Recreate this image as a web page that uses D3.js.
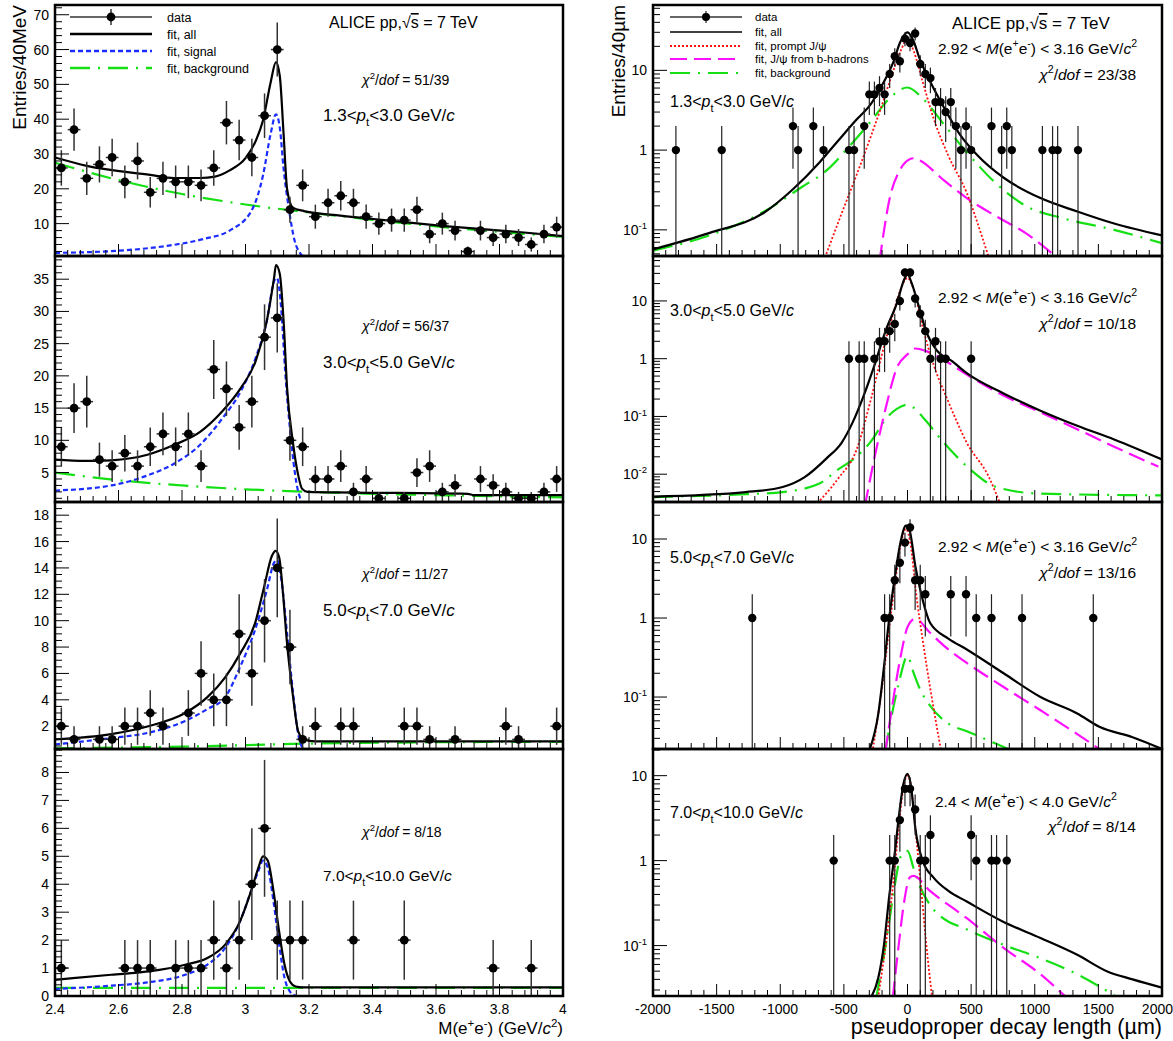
<!DOCTYPE html>
<html><head><meta charset="utf-8">
<script src="https://cdn.jsdelivr.net/npm/d3@7"></script>
<style>body{margin:0;background:#fff;}svg{display:block;font-family:"Liberation Sans",Arial,Helvetica,sans-serif;}</style>
</head><body><svg id="c" width="1173" height="1041"></svg>
<script>
// ---------------- DATA ----------------
const massBins=[2.42,2.46,2.50,2.54,2.58,2.62,2.66,2.70,2.74,2.78,2.82,2.86,2.90,2.94,2.98,3.02,3.06,3.10,3.14,3.18,3.22,3.26,3.30,3.34,3.38,3.42,3.46,3.50,3.54,3.58,3.62,3.66,3.70,3.74,3.78,3.82,3.86,3.90,3.94,3.98];
const massCounts1=[26,37,23,27,29,22,28,19,23,22,22,21,26,39,34,29,41,60,14,21,12,16,18,16,12,10,11,11,14,7,10,8,2,8,6,7,6,4,7,9];
const massCounts2=[9,15,16,7,6,8,6,9,11,9,11,6,21,18,12,16,26,29,10,9,4,4,6,2,4,1,null,1,5,6,2,3,null,4,3,2,1,1,2,4];
const massCounts3=[2,1,null,1,1,2,2,3,2,null,3,6,4,4,9,6,10,14,8,1,2,null,2,2,null,null,null,2,2,1,null,1,null,null,null,2,1,null,null,2];
const massCounts4=[1,null,null,null,null,1,1,1,null,1,1,1,2,1,2,4,6,2,2,2,null,null,null,2,null,null,null,2,null,null,null,null,null,null,1,null,null,1,null,null];

const massFitAll1=[[2.40,29.0],[2.50,26.6],[2.70,24.0],[2.775,23.1],[2.857,23.1],[2.904,23.5],[2.95,25.3],[3.0,28.8],[3.032,33.7],[3.055,39.6],[3.079,50.5],[3.096,56.4],[3.108,52.4],[3.120,35.7],[3.131,19.9],[3.149,14.6],[3.184,13.6],[3.277,12.5],[3.394,11.4],[3.627,9.3],[3.86,7.6],[4.0,6.4]];
const massSignal1=[[2.40,1.6],[2.577,2.1],[2.752,3.6],[2.869,5.6],[2.95,8.0],[3.02,13.9],[3.055,23.8],[3.079,35.7],[3.096,41.4],[3.108,37.6],[3.12,25.8],[3.137,14],[3.155,5],[3.172,1.5],[3.185,0.3]];
const massBkg1=[[2.40,27.5],[2.60,22.5],[2.80,18.5],[3.00,15.5],[3.20,13.2],[3.40,11.1],[3.60,9.2],[3.80,7.6],[4.00,6.2]];

const massFitAll2=[[2.40,7.0],[2.496,6.8],[2.577,6.9],[2.694,7.8],[2.776,9.3],[2.857,11.3],[2.927,14.5],[2.985,18.1],[3.032,22.3],[3.067,28.5],[3.09,35.2],[3.096,37.2],[3.108,35.8],[3.12,28.5],[3.131,18.1],[3.149,9.8],[3.166,4.6],[3.178,2.5],[3.195,2.0],[3.335,1.9],[3.70,1.7],[3.72,1.5],[4.0,1.5]];
const massSignal2=[[2.40,2.2],[2.577,3.0],[2.694,4.6],[2.776,6.4],[2.857,9.3],[2.927,13.4],[2.985,17.6],[3.032,22.8],[3.067,28.5],[3.09,34.7],[3.099,35.2],[3.113,30.1],[3.125,20.7],[3.142,10.8],[3.16,3.5],[3.178,0.3]];
const massBkg2=[[2.40,5.0],[2.60,3.8],[2.80,3.0],[3.00,2.4],[3.20,2.0],[3.40,1.7],[3.60,1.5],[3.80,1.3],[4.00,1.15]];

const massFitAll3=[[2.40,1.0],[2.577,1.4],[2.694,2.0],[2.81,3.0],[2.88,4.2],[2.936,5.7],[2.983,7.5],[3.03,9.8],[3.059,12.6],[3.083,14.9],[3.095,15.3],[3.106,14.8],[3.118,12.1],[3.13,8.5],[3.149,4.4],[3.166,1.6],[3.184,1.0],[3.219,0.85],[4.0,0.85]];
const massSignal3=[[2.40,0.62],[2.577,1.1],[2.694,1.5],[2.81,2.4],[2.88,3.3],[2.936,4.2],[2.983,6.5],[3.03,9.3],[3.067,12.3],[3.09,14.4],[3.099,14.6],[3.113,13.1],[3.131,9.0],[3.149,4.7],[3.166,1.4],[3.184,0.2]];
const massBkg3=[[2.40,0.32],[2.80,0.45],[3.20,0.68],[3.60,0.78],[4.00,0.82]];

const massFitAll4=[[2.40,0.58],[2.577,0.76],[2.694,0.88],[2.81,1.12],[2.88,1.36],[2.936,1.84],[2.983,2.68],[3.018,3.77],[3.041,4.6],[3.055,5.0],[3.07,4.85],[3.088,3.77],[3.106,2.3],[3.123,1.12],[3.14,0.52],[3.158,0.34],[3.18,0.31],[4.0,0.31]];
const massSignal4=[[2.40,0.25],[2.577,0.37],[2.694,0.49],[2.81,0.76],[2.88,1.12],[2.936,1.72],[2.983,2.68],[3.018,3.77],[3.041,4.49],[3.055,4.85],[3.07,4.6],[3.088,3.4],[3.106,1.84],[3.123,0.64],[3.14,0.16],[3.158,0.01]];
const massBkg4=[[2.40,0.29],[4.00,0.29]];

const decayX1=[-1820,-1460,-900,-860,-740,-660,-460,-420,-340,-300,-260,-220,-180,-140,-100,-60,-20,20,60,100,140,180,220,260,300,340,380,420,460,500,660,740,780,820,1060,1140,1180,1340];
const decayN1=[1,1,2,1,2,1,1,1,2,5,5,6,5,9,15,13,25,22,29,12,9,8,4,4,3,4,2,1,2,1,2,1,2,1,1,1,1,1];
const decayX2=[-460,-380,-340,-260,-220,-180,-140,-100,-60,-20,20,60,100,140,180,220,260,300,500];
const decayN2=[1,1,1,1,2,2,3,4,10,31,31,11,6,3,1,2,1,1,1];
const decayX3=[-1220,-180,-140,-100,-60,-20,20,60,100,140,340,460,540,660,900,1460];
const decayN3=[1,1,1,3,5,9,14,3,3,2,2,2,1,1,1,1];
const decayX4=[-580,-140,-100,-60,-20,20,60,100,140,180,500,540,660,700,780];
const decayN4=[1,1,1,3,7,7,4,1,1,2,2,1,1,1,1];

const decayAll1=[[-2000,0.057],[-1560,0.091],[-1126,0.165],[-894,0.33],[-692,0.7],[-547,1.3],[-402,2.4],[-287,3.8],[-200,6.5],[-113,12.5],[-55,23],[0,30],[49,23],[93,14.3],[179,7.2],[292,3.3],[408,1.6],[553,0.85],[756,0.45],[1045,0.25],[1334,0.17],[1624,0.12],[2000,0.085]];
const decayPrompt1=[[-660,0.04],[-518,0.16],[-402,0.48],[-287,1.5],[-200,3.7],[-113,9.7],[-55,17.4],[0,24.5],[49,17.4],[119,7.2],[205,2.5],[321,0.85],[466,0.29],[600,0.07],[650,0.04]];
const decayB1=[[-220,0.04],[-142,0.24],[-55,0.58],[17,0.77],[50,0.79],[90,0.75],[292,0.41],[466,0.25],[697,0.148],[929,0.091],[1140,0.05]];
const decayBkg1=[[-2000,0.055],[-1560,0.085],[-1126,0.17],[-836,0.34],[-634,0.56],[-460,1.1],[-287,2.3],[-142,4.45],[0,6.1],[119,4.45],[292,2.05],[466,0.94],[697,0.38],[929,0.2],[1219,0.14],[1624,0.1],[2000,0.068]];

const decayAll2=[[-2000,0.0041],[-1270,0.0049],[-981,0.006],[-808,0.0089],[-634,0.019],[-518,0.035],[-431,0.079],[-344,0.23],[-258,0.79],[-171,3.1],[-84,9.1],[-26,23.5],[0,29],[32,20.6],[90,7.9],[148,2.9],[234,1.36],[350,0.91],[466,0.56],[755,0.25],[1045,0.126],[1334,0.069],[1624,0.04],[2000,0.018]];
const decayPrompt2=[[-730,0.0028],[-547,0.0083],[-402,0.026],[-287,0.2],[-200,1.2],[-113,6],[-55,15.6],[0,25],[49,15.6],[119,3.5],[205,0.79],[321,0.18],[466,0.035],[640,0.0089],[735,0.0028]];
const decayB2=[[-335,0.0028],[-258,0.02],[-171,0.14],[-84,0.69],[0,1.19],[61,1.5],[148,1.35],[321,0.85],[466,0.53],[755,0.23],[1045,0.118],[1334,0.06],[1624,0.03],[1971,0.0135]];
const decayBkg2=[[-2000,0.004],[-1270,0.0045],[-981,0.0049],[-692,0.0069],[-547,0.012],[-402,0.02],[-287,0.037],[-171,0.09],[-84,0.135],[0,0.16],[61,0.135],[133,0.09],[292,0.034],[495,0.012],[697,0.006],[1045,0.0046],[2000,0.0043]];

const decayAll3=[[-305,0.02],[-229,0.062],[-185,0.24],[-142,1.05],[-98,3.4],[-55,9.1],[-12,14.8],[17,12.8],[61,4.6],[119,1.7],[177,0.87],[321,0.55],[466,0.4],[755,0.2],[1045,0.1],[1334,0.062],[1508,0.042],[1769,0.031],[2000,0.022]];
const decayPrompt3=[[-276,0.02],[-200,0.134],[-142,0.78],[-98,2.8],[-55,8.2],[-12,13.4],[26,8.2],[67,2.1],[119,0.53],[177,0.134],[266,0.02]];
const decayB3=[[-175,0.02],[-113,0.091],[-55,0.32],[2,0.78],[61,0.98],[177,0.65],[321,0.4],[466,0.27],[755,0.134],[1045,0.068],[1334,0.034],[1545,0.02]];
const decayBkg3=[[-175,0.02],[-127,0.055],[-69,0.148],[0,0.33],[49,0.2],[104,0.12],[177,0.078],[321,0.046],[466,0.037],[640,0.028],[850,0.02]];

const decayAll4=[[-290,0.024],[-229,0.042],[-185,0.102],[-142,0.4],[-98,1.3],[-69,3.2],[-32,8],[0,10.5],[29,7.3],[61,2.45],[119,1.0],[205,0.63],[321,0.44],[466,0.33],[755,0.19],[1045,0.123],[1334,0.078],[1566,0.05],[1769,0.04],[2000,0.032]];
const decayPrompt4=[[-232,0.024],[-171,0.102],[-113,0.53],[-69,2.45],[-32,7.3],[0,10],[29,7.3],[61,2.45],[104,0.53],[148,0.102],[194,0.024]];
const decayB4=[[-116,0.024],[-69,0.102],[-26,0.33],[17,0.63],[46,0.66],[177,0.44],[466,0.21],[755,0.094],[1045,0.046],[1255,0.024]];
const decayBkg4=[[-246,0.024],[-171,0.102],[-98,0.53],[-55,1.1],[0,1.3],[46,0.83],[90,0.53],[177,0.3],[263,0.22],[466,0.155],[755,0.102],[1045,0.071],[1334,0.046],[1660,0.024]];

const massTickLabels=["2.4","2.6","2.8","3","3.2","3.4","3.6","3.8","4"];
const decayTickLabels=["-2000","-1500","-1000","-500","0","500","1000","1500","2000"];
const ptLabels=[["1.3","3.0"],["3.0","5.0"],["5.0","7.0"],["7.0","10.0"]];
const chiLeft=["51/39","56/37","11/27"," 8/18"];
const chiRight=["23/38","10/18","13/16"," 8/14"];
const massWindows=[["2.92","3.16"],["2.92","3.16"],["2.92","3.16"],["2.4","4.0"]];

// ---------------- LAYOUT ----------------
const svg=d3.select("#c");
const LX=[55,563], RX=[653,1162];
const ROWS=[[5,256],[256,502],[502,749],[749,996]];
const leftY=[[0.7,72.8],[0.43,38.6],[0.27,19.0],[0,8.84]];
const leftMajor=[10,5,2,1], leftMinor=[2,1,0.5,0.2];
const rightY=[[0.047,66],[0.0033,60],[0.022,29.4],[0.0255,20.6]];
const leftSets=[[massCounts1,massFitAll1,massSignal1,massBkg1],[massCounts2,massFitAll2,massSignal2,massBkg2],[massCounts3,massFitAll3,massSignal3,massBkg3],[massCounts4,massFitAll4,massSignal4,massBkg4]];
const rightSets=[[decayX1,decayN1,decayAll1,decayPrompt1,decayB1,decayBkg1],[decayX2,decayN2,decayAll2,decayPrompt2,decayB2,decayBkg2],[decayX3,decayN3,decayAll3,decayPrompt3,decayB3,decayBkg3],[decayX4,decayN4,decayAll4,decayPrompt4,decayB4,decayBkg4]];

const COL={all:"#000",sig:"#1a2cff",bkg:"#14e014",prompt:"#ff1010",b:"#ff10ff"};
const DASH={sig:"5,3",bkg:"20,8,2,8",prompt:"2,2",b:"17,7"};

function rich(g,x,y,segs,size,anchor){
  const t=g.append("text").attr("x",x).attr("y",y).attr("font-size",size).attr("text-anchor",anchor||"start").attr("fill","#000");
  let shift=0;
  segs.forEach(s=>{
    const sp=t.append("tspan").text(s.t);
    let target=0;
    if(s.sup){target=-size*0.42;sp.attr("font-size",size*0.68);}
    if(s.sub){target=size*0.32;sp.attr("font-size",size*0.68);}
    sp.attr("dy",target-shift);shift=target;
    if(s.i)sp.attr("font-style","italic");
    if(s.o)sp.attr("text-decoration","overline");
  });
  return t;
}
function ptSegs(a,b){return [{t:a+"<"},{t:"p",i:1},{t:"t",sub:1},{t:"<"+b+" GeV/"},{t:"c",i:1}];}
function chiSegs(v){return [{t:"χ",i:1},{t:"2",sup:1},{t:"/"},{t:"dof",i:1},{t:" = "+v}];}
function aliceSegs(){return [{t:"ALICE pp,"},{t:"√"},{t:"s",o:1},{t:" = 7 TeV"}];}

let clipId=0;
function makeClip(x0,x1,y0,y1){
  const id="clip"+(clipId++);
  svg.append("clipPath").attr("id",id).append("rect").attr("x",x0).attr("y",y0).attr("width",x1-x0).attr("height",y1-y0);
  return "url(#"+id+")";
}

// ---------------- LEFT PANELS ----------------
const xm=d3.scaleLinear().domain([2.4,4.0]).range(LX);
const chiLeftY=[85,331,579,837], ptLeftY=[121,368,616,881];
leftSets.forEach((set,p)=>{
  const [y0,y1]=ROWS[p];
  const y=d3.scaleLinear().domain(leftY[p]).range([y1,y0]);
  const g=svg.append("g");
  const cg=g.append("g").attr("clip-path",makeClip(LX[0],LX[1],y0,y1));
  const line=d3.line().x(d=>xm(d[0])).y(d=>y(d[1])).curve(d3.curveMonotoneX);
  cg.append("path").attr("d",line(set[3])).attr("fill","none").attr("stroke",COL.bkg).attr("stroke-width",2.2).attr("stroke-dasharray",DASH.bkg);
  cg.append("path").attr("d",line(set[2])).attr("fill","none").attr("stroke",COL.sig).attr("stroke-width",2.2).attr("stroke-dasharray",DASH.sig);
  cg.append("path").attr("d",line(set[1])).attr("fill","none").attr("stroke",COL.all).attr("stroke-width",2.2);
  const pts=massBins.map((m,i)=>({m,n:set[0][i]})).filter(d=>d.n!=null);
  pts.forEach(d=>{
    const e=Math.sqrt(d.n);
    cg.append("line").attr("x1",xm(d.m)).attr("x2",xm(d.m)).attr("y1",y(d.n-e)).attr("y2",y(d.n+e)).attr("stroke","#333").attr("stroke-width",1.5);
    cg.append("line").attr("x1",xm(d.m-0.02)).attr("x2",xm(d.m+0.02)).attr("y1",y(d.n)).attr("y2",y(d.n)).attr("stroke","#333").attr("stroke-width",1.5);
    cg.append("circle").attr("cx",xm(d.m)).attr("cy",y(d.n)).attr("r",4.4).attr("fill","#000");
  });
  const [lo,hi]=leftY[p];
  const mn=leftMinor[p],mj=leftMajor[p];
  for(let k=Math.ceil(lo/mn-1e-9);k*mn<=hi+1e-9;k++){
    const v=k*mn;const isMaj=Math.abs(v/mj-Math.round(v/mj))<1e-6;
    g.append("line").attr("x1",LX[0]).attr("x2",LX[0]+(isMaj?14:7)).attr("y1",y(v)).attr("y2",y(v)).attr("stroke","#000").attr("stroke-width",1);
    if(isMaj) g.append("text").attr("x",LX[0]-6).attr("y",y(v)+5).attr("text-anchor","end").attr("font-size",14).text(d3.format("~g")(v));
  }
  for(let k=0;k<=40;k++){
    const v=2.4+k*0.04;const isMaj=k%5===0;
    g.append("line").attr("x1",xm(v)).attr("x2",xm(v)).attr("y1",y1).attr("y2",y1-(isMaj?12:6)).attr("stroke","#000").attr("stroke-width",1);
  }
  g.append("rect").attr("x",LX[0]).attr("y",y0).attr("width",LX[1]-LX[0]).attr("height",y1-y0).attr("fill","none").attr("stroke","#000").attr("stroke-width",2.5);
  rich(g,362,chiLeftY[p],chiSegs(chiLeft[p]),14);
  rich(g,323,ptLeftY[p],ptSegs(ptLabels[p][0],ptLabels[p][1]),p===3?15.5:17);
});
massTickLabels.forEach((t,i)=>{
  svg.append("text").attr("x",xm(2.4+i*0.2)).attr("y",1014).attr("text-anchor","middle").attr("font-size",14).text(t);
});
rich(svg,563,1034,[{t:"M(e"},{t:"+",sup:1},{t:"e"},{t:"-",sup:1},{t:") (GeV/"},{t:"c",i:1},{t:"2",sup:1},{t:")"}],17,"end");
svg.append("text").attr("transform","translate(26,5) rotate(-90)").attr("text-anchor","end").attr("font-size",19).text("Entries/40MeV");
(function(){
  const g=svg.append("g");
  const rows=[17,34,51,68];
  g.append("line").attr("x1",70).attr("x2",152).attr("y1",rows[0]).attr("y2",rows[0]).attr("stroke","#333").attr("stroke-width",1.5);
  g.append("line").attr("x1",111).attr("x2",111).attr("y1",rows[0]-8).attr("y2",rows[0]+8).attr("stroke","#333").attr("stroke-width",1.5);
  g.append("circle").attr("cx",111).attr("cy",rows[0]).attr("r",4.4);
  g.append("line").attr("x1",70).attr("x2",152).attr("y1",rows[1]).attr("y2",rows[1]).attr("stroke","#000").attr("stroke-width",2.5);
  g.append("line").attr("x1",70).attr("x2",152).attr("y1",rows[2]).attr("y2",rows[2]).attr("stroke",COL.sig).attr("stroke-width",2.5).attr("stroke-dasharray",DASH.sig);
  g.append("line").attr("x1",70).attr("x2",152).attr("y1",rows[3]).attr("y2",rows[3]).attr("stroke",COL.bkg).attr("stroke-width",2.5).attr("stroke-dasharray",DASH.bkg);
  ["data","fit, all","fit, signal","fit, background"].forEach((t,i)=>g.append("text").attr("x",167).attr("y",rows[i]+4.5).attr("font-size",12.5).text(t));
  rich(g,329,28,aliceSegs(),16);
})();

// ---------------- RIGHT PANELS ----------------
const xd=d3.scaleLinear().domain([-2000,2000]).range(RX);
const mWinY=[54,303,552,807], chiRY=[80,329,578,832], ptRY=[107,316,563,818];
rightSets.forEach((set,p)=>{
  const [y0,y1]=ROWS[p];
  const y=d3.scaleLog().domain(rightY[p]).range([y1,y0]);
  const g=svg.append("g");
  const cg=g.append("g").attr("clip-path",makeClip(RX[0],RX[1],y0,y1));
  const line=d3.line().x(d=>xd(d[0])).y(d=>y(d[1])).curve(d3.curveMonotoneX);
  cg.append("path").attr("d",line(set[5])).attr("fill","none").attr("stroke",COL.bkg).attr("stroke-width",2.2).attr("stroke-dasharray",DASH.bkg);
  cg.append("path").attr("d",line(set[4])).attr("fill","none").attr("stroke",COL.b).attr("stroke-width",2.2).attr("stroke-dasharray",DASH.b);
  cg.append("path").attr("d",line(set[3])).attr("fill","none").attr("stroke",COL.prompt).attr("stroke-width",1.8).attr("stroke-dasharray",DASH.prompt);
  cg.append("path").attr("d",line(set[2])).attr("fill","none").attr("stroke",COL.all).attr("stroke-width",2.2);
  set[0].forEach((xv,i)=>{
    const n=set[1][i],e=Math.sqrt(n);
    const lowY=n-e>0?y(n-e):y1+5;
    cg.append("line").attr("x1",xd(xv)).attr("x2",xd(xv)).attr("y1",lowY).attr("y2",y(n+e)).attr("stroke","#222").attr("stroke-width",1.2);
    cg.append("line").attr("x1",xd(xv-20)).attr("x2",xd(xv+20)).attr("y1",y(n)).attr("y2",y(n)).attr("stroke","#222").attr("stroke-width",1.2);
    cg.append("circle").attr("cx",xd(xv)).attr("cy",y(n)).attr("r",4.2).attr("fill","#000");
  });
  const [lo,hi]=rightY[p];
  for(let e=-3;e<=2;e++){
    for(let m=1;m<=9;m++){
      const v=m*Math.pow(10,e);
      if(v<lo||v>hi)continue;
      g.append("line").attr("x1",RX[0]).attr("x2",RX[0]+(m===1?14:7)).attr("y1",y(v)).attr("y2",y(v)).attr("stroke","#000").attr("stroke-width",1);
      if(m===1){
        let segs;
        if(e===0)segs=[{t:"1"}];else if(e===1)segs=[{t:"10"}];else segs=[{t:"10"},{t:String(e),sup:1}];
        rich(g,RX[0]-6,y(v)+5,segs,14,"end");
      }
    }
  }
  for(let k=0;k<=40;k++){
    const v=-2000+k*100;const isMaj=k%5===0;
    g.append("line").attr("x1",xd(v)).attr("x2",xd(v)).attr("y1",y1).attr("y2",y1-(isMaj?12:6)).attr("stroke","#000").attr("stroke-width",1);
  }
  g.append("rect").attr("x",RX[0]).attr("y",y0).attr("width",RX[1]-RX[0]).attr("height",y1-y0).attr("fill","none").attr("stroke","#000").attr("stroke-width",2.5);
  const mw=massWindows[p];
  const mSegs=[{t:mw[0]+" < "},{t:"M",i:1},{t:"(e"},{t:"+",sup:1},{t:"e"},{t:"-",sup:1},{t:") < "+mw[1]+" GeV/"},{t:"c",i:1},{t:"2",sup:1}];
  if(p<3) rich(g,1137,mWinY[p],mSegs,15.5,"end"); else rich(g,935,mWinY[p],mSegs,15.5,"start");
  rich(g,1136,chiRY[p],chiSegs(chiRight[p]),15.5,"end");
  rich(g,670,ptRY[p],ptSegs(ptLabels[p][0],ptLabels[p][1]),16);
});
decayTickLabels.forEach((t,i)=>{
  const last=i===decayTickLabels.length-1;
  svg.append("text").attr("x",last?1173:xd(-2000+i*500)).attr("y",1014).attr("text-anchor",last?"end":"middle").attr("font-size",14).text(t);
});
rich(svg,1162,1034,[{t:"pseudoproper decay length (µm)"}],21.5,"end");
svg.append("text").attr("transform","translate(625,5) rotate(-90)").attr("text-anchor","end").attr("font-size",19).text("Entries/40µm");
(function(){
  const g=svg.append("g");
  const rows=[17,32,46,59,73];
  const a=670,b=742,c=706;
  g.append("line").attr("x1",a).attr("x2",b).attr("y1",rows[0]).attr("y2",rows[0]).attr("stroke","#333").attr("stroke-width",1.3);
  g.append("line").attr("x1",c).attr("x2",c).attr("y1",rows[0]-6).attr("y2",rows[0]+6).attr("stroke","#333").attr("stroke-width",1.3);
  g.append("circle").attr("cx",c).attr("cy",rows[0]).attr("r",4);
  g.append("line").attr("x1",a).attr("x2",b).attr("y1",rows[1]).attr("y2",rows[1]).attr("stroke","#000").attr("stroke-width",1.3);
  g.append("line").attr("x1",a).attr("x2",b).attr("y1",rows[2]).attr("y2",rows[2]).attr("stroke",COL.prompt).attr("stroke-width",1.8).attr("stroke-dasharray",DASH.prompt);
  g.append("line").attr("x1",a).attr("x2",b).attr("y1",rows[3]).attr("y2",rows[3]).attr("stroke",COL.b).attr("stroke-width",2.2).attr("stroke-dasharray",DASH.b);
  g.append("line").attr("x1",a).attr("x2",b).attr("y1",rows[4]).attr("y2",rows[4]).attr("stroke",COL.bkg).attr("stroke-width",2.2).attr("stroke-dasharray",DASH.bkg);
  const labs=[[{t:"data"}],[{t:"fit, all"}],[{t:"fit, prompt J/ψ"}],[{t:"fit, J/ψ from b-hadrons"}],[{t:"fit, background"}]];
  labs.forEach((s,i)=>rich(g,755,rows[i]+4,s,11.5));
  rich(g,952,29,aliceSegs(),17);
})();
</script></body></html>
